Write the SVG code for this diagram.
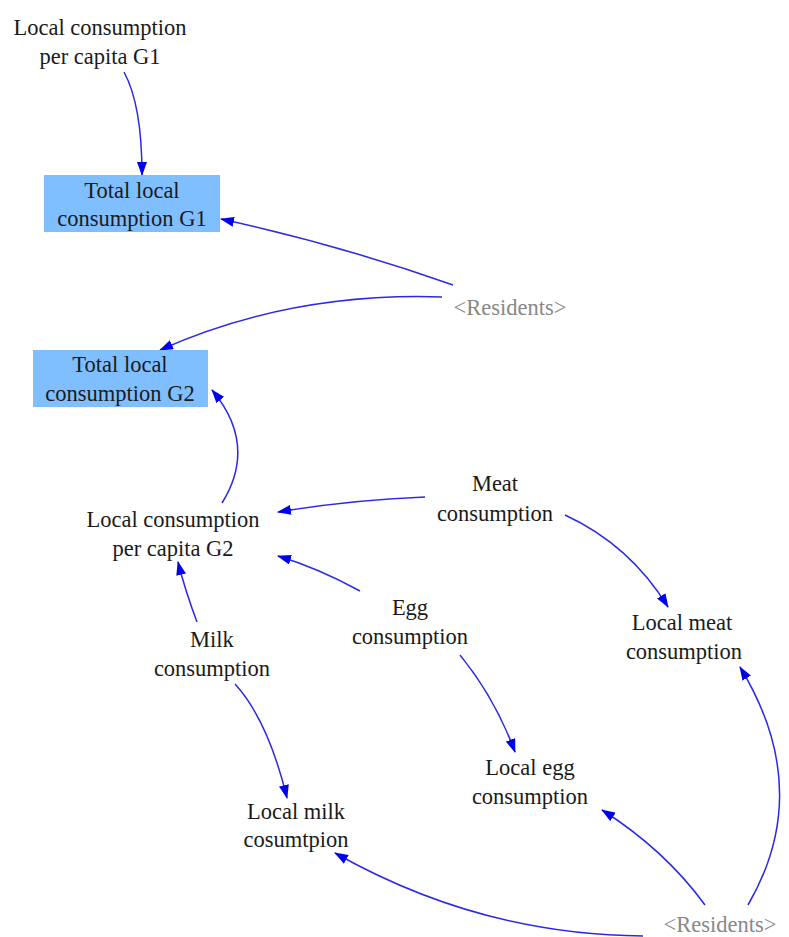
<svg xmlns="http://www.w3.org/2000/svg" width="789" height="937" viewBox="0 0 789 937">
<defs>
<marker id="ah" markerUnits="userSpaceOnUse" markerWidth="14" markerHeight="10" refX="13" refY="5" orient="auto">
<path d="M0,0 L14,5 L0,10 Z" fill="#0000ee"/>
</marker>
<style>
text{font-family:'Liberation Serif','Times New Roman',serif;font-size:22.5px;fill:#1a1a1a;text-anchor:middle}
.sh{fill:#888888}
.box{fill:#80bfff}
.c{fill:none;stroke:#2a2ae6;stroke-width:1.5;marker-end:url(#ah)}
</style>
</defs>
<rect width="789" height="937" fill="#ffffff"/>
<g id="connectors">
<path class="c" d="M124,72 Q142,105 142,175"/>
<path class="c" d="M453,285 Q340,245 221,219"/>
<path class="c" d="M442,297 Q290,292 160,350"/>
<path class="c" d="M222,503 Q258,445 212,390"/>
<path class="c" d="M425,497 Q350,500 278,512"/>
<path class="c" d="M565,515 Q630,545 668,607"/>
<path class="c" d="M360,591 Q318,568 278,556"/>
<path class="c" d="M460,655 Q495,698 515,752"/>
<path class="c" d="M197,622 Q185,590 178,562"/>
<path class="c" d="M235,684 Q268,720 287,798"/>
<path class="c" d="M643,936 Q480,935 335,853"/>
<path class="c" d="M705,905 Q665,850 602,810"/>
<path class="c" d="M748,905 Q815,790 740,667"/>
</g>
<g id="lcpc_g1">
<text x="100" y="35">Local consumption</text>
<text x="100" y="64">per capita G1</text>
</g>
<g id="total_g1">
<rect class="box" x="44" y="175" width="176" height="57"/>
<text x="132" y="198">Total local</text>
<text x="132" y="226">consumption G1</text>
</g>
<g id="residents_top">
<text class="sh" x="510" y="315">&lt;Residents&gt;</text>
</g>
<g id="total_g2">
<rect class="box" x="33" y="350" width="175" height="57"/>
<text x="120" y="372">Total local</text>
<text x="120" y="401">consumption G2</text>
</g>
<g id="lcpc_g2">
<text x="173" y="527">Local consumption</text>
<text x="173" y="556">per capita G2</text>
</g>
<g id="meat">
<text x="495" y="491">Meat</text>
<text x="495" y="521">consumption</text>
</g>
<g id="local_meat">
<text x="682" y="630">Local meat</text>
<text x="684" y="659">consumption</text>
</g>
<g id="egg">
<text x="410" y="615">Egg</text>
<text x="410" y="644">consumption</text>
</g>
<g id="milk">
<text x="212" y="647">Milk</text>
<text x="212" y="676">consumption</text>
</g>
<g id="local_egg">
<text x="530" y="775">Local egg</text>
<text x="530" y="804">consumption</text>
</g>
<g id="local_milk">
<text x="296" y="819">Local milk</text>
<text x="296" y="847">cosumtpion</text>
</g>
<g id="residents_bottom">
<text class="sh" x="720" y="932">&lt;Residents&gt;</text>
</g>
</svg>
